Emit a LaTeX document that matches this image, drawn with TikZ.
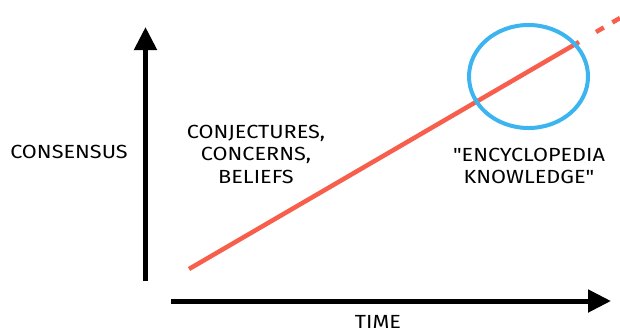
\documentclass[tikz,border=0pt]{standalone}
\usepackage{fontspec}
\setmainfont{Fira Sans}[FakeStretch=1.14, Ligatures=TeXOff]
\usepackage{xcolor}
\usepackage{tikz}
\usetikzlibrary{shapes,arrows.meta,positioning}

\definecolor{trendred}{RGB}{247,94,76}
\definecolor{circblue}{RGB}{60,180,240}

\begin{document}
\begin{tikzpicture}[x=1pt,y=-1pt,
    axisline/.style={line width=5pt, -{Triangle[width=22pt,length=23pt]}},
    trend/.style={line width=4.5pt, draw=trendred},
    txt/.style={font=\fontsize{19}{22.5}\selectfont, align=center, inner sep=0pt}]
        \useasboundingbox (0,0) rectangle (620,333);

        % Axes
        \coordinate (O1) at (145.5,281);
        \coordinate (Ytop) at (145.5,27);
        \coordinate (O2) at (171,301);
        \coordinate (Xend) at (611,301);
        \draw[axisline] (O1) -- (Ytop);
        \draw[axisline] (O2) -- (Xend);

        % Trend line
        \coordinate (T0) at (189,269);
        \coordinate (T1) at (579,42);
        \coordinate (T2) at (596,32);
        \coordinate (T3) at (620,18);
        \draw[trend] (T0) -- (T1);
        \draw[trend, dash pattern=on 9pt off 10pt] (T2) -- (T3);

        % Circle
        \node[ellipse, draw=circblue, line width=4pt, minimum width=119pt, minimum height=103pt, inner sep=0pt] (Focus) at (528.5,76.5) {};

        % Labels
        \node[txt] (Cons) at (69,152) {CONSENSUS};
        \node[txt] (Conj) at (256,154) {CONJECTURES,\\CONCERNS,\\BELIEFS};
        \node[txt] (Ency) at (529,166) {"ENCYCLOPEDIA\\KNOWLEDGE"};
        \node[txt, anchor=base] (Time) at (378,328) {TIME};
    \end{tikzpicture}
\end{document}
